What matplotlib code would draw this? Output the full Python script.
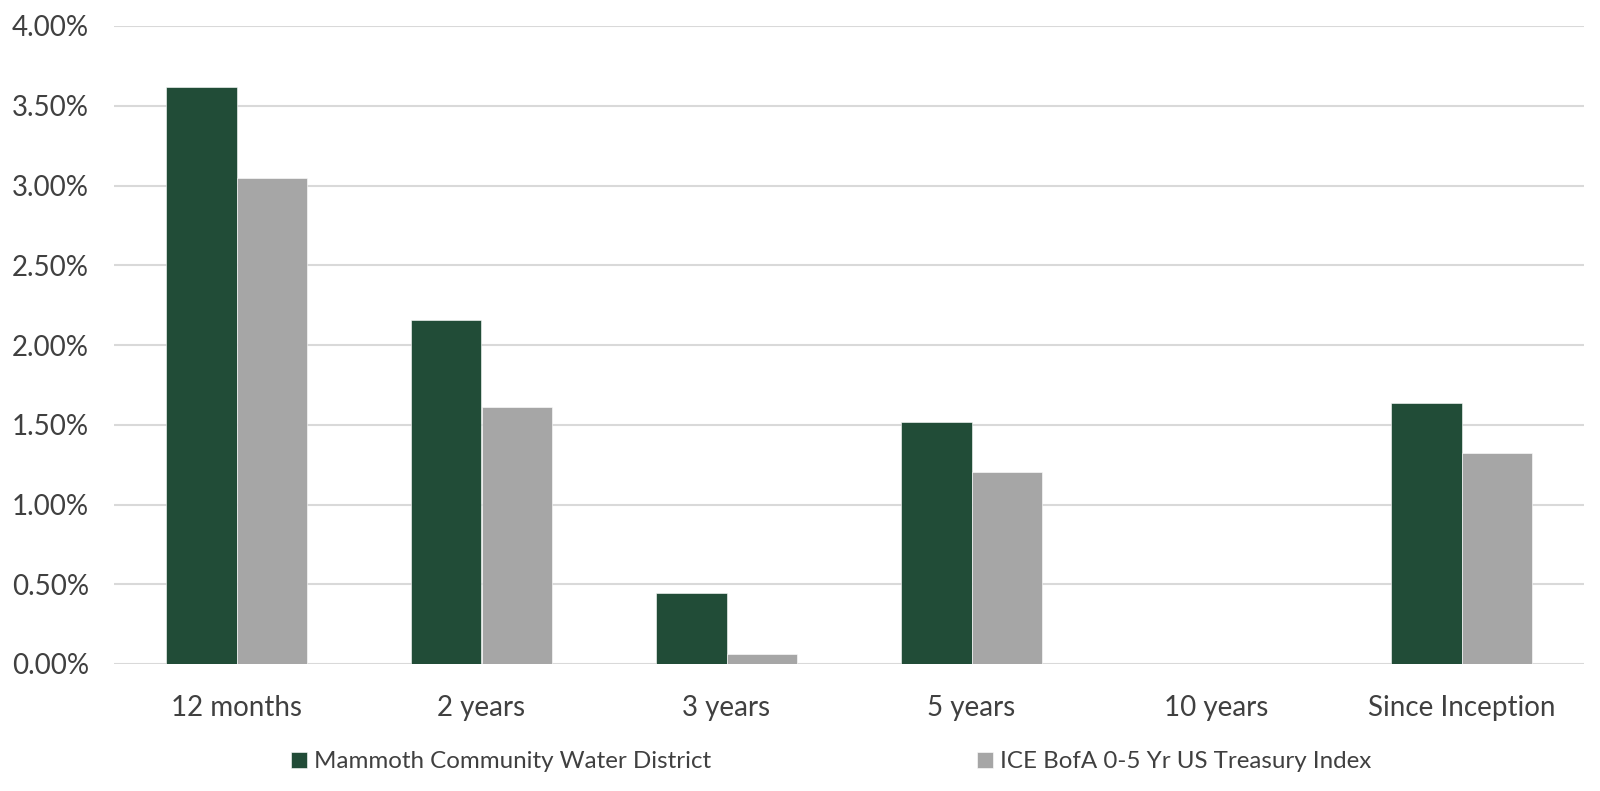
import numpy as np
import matplotlib.pyplot as plt
from matplotlib.ticker import FuncFormatter, MultipleLocator

categories = ['12 months', '2 years', '3 years', '5 years', '10 years', 'Since Inception']
district = [3.62, 2.155, 0.445, 1.52, np.nan, 1.635]
treasury = [3.05, 1.61, 0.063, 1.205, np.nan, 1.32]
series_names = ['Mammoth Community Water District', 'ICE BofA 0-5 Yr US Treasury Index']

plt.rcParams['font.family'] = ['Lato', 'DejaVu Sans']

fig = plt.figure(figsize=(16, 7.91), dpi=100)
ax = fig.add_axes([114 / 1600, 1 - 664 / 791, (1584 - 114) / 1600, (664 - 26) / 791])

x = np.arange(len(categories))
w = 0.286
ax.bar(x - w / 2, district, w, color='#214c37', edgecolor='#ffffff', linewidth=0.4,
       label=series_names[0], zorder=3)
ax.bar(x + w / 2, treasury, w, color='#a6a6a6', edgecolor='#ffffff', linewidth=0.4,
       label=series_names[1], zorder=3)

ax.set_xlim(-0.5, len(categories) - 0.5)
ax.set_ylim(0, 4.0)
ax.yaxis.set_major_locator(MultipleLocator(0.5))
ax.yaxis.set_major_formatter(FuncFormatter(lambda v, p: f'{v:.2f}%'))
ax.set_xticks(x)
ax.set_xticklabels(categories)
ax.grid(axis='y', color='#d9d9d9', linewidth=1.5, zorder=0)
for s in ax.spines.values():
    s.set_visible(False)
ax.tick_params(axis='both', length=0, labelsize=20, colors='#404040')
ax.tick_params(axis='x', pad=22)
ax.tick_params(axis='y', pad=18)

fig.legend(loc='center left', bbox_to_anchor=(279 / 1600, 1 - 762 / 791), ncol=2,
           frameon=False, fontsize=17.4, handlelength=0.65, handleheight=0.65,
           handletextpad=0.3, columnspacing=11.0, labelcolor='#404040', borderpad=0)

fig.savefig('out.png', dpi=100)
